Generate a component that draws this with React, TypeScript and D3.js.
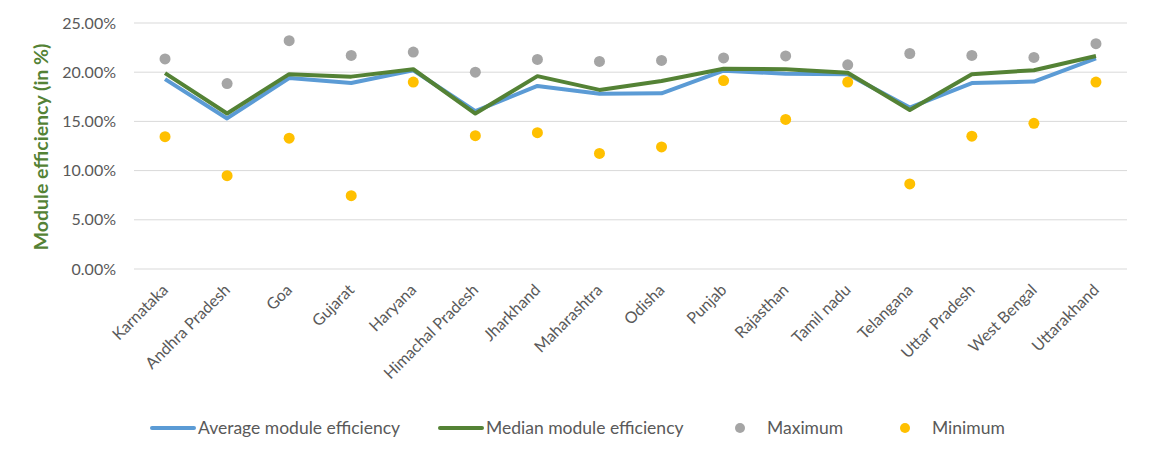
import React from 'react';
import * as d3 from 'd3';

const states = [
  'Karnataka', 'Andhra Pradesh', 'Goa', 'Gujarat', 'Haryana', 'Himachal Pradesh',
  'Jharkhand', 'Maharashtra', 'Odisha', 'Punjab', 'Rajasthan', 'Tamil nadu',
  'Telangana', 'Uttar Pradesh', 'West Bengal', 'Uttarakhand',
];
const average = [19.3, 15.3, 19.4, 18.9, 20.2, 16.05, 18.6, 17.8, 17.85, 20.15, 19.85, 19.8, 16.4, 18.9, 19.05, 21.4];
const median = [19.9, 15.8, 19.8, 19.55, 20.3, 15.8, 19.6, 18.2, 19.1, 20.35, 20.3, 19.95, 16.15, 19.8, 20.2, 21.65];
const maximum = [21.35, 18.85, 23.2, 21.7, 22.05, 20.0, 21.3, 21.1, 21.2, 21.45, 21.65, 20.75, 21.9, 21.7, 21.5, 22.9];
const minimum = [13.45, 9.48, 13.3, 7.45, 19.0, 13.55, 13.85, 11.75, 12.4, 19.15, 15.2, 19.0, 8.64, 13.5, 14.8, 19.0];
const yTicks = [0, 5, 10, 15, 20, 25];

const legendItems = [
  { label: 'Average module efficiency', kind: 'line', color: '#5B9BD5', x: 152 },
  { label: 'Median module efficiency', kind: 'line', color: '#548235', x: 440 },
  { label: 'Maximum', kind: 'dot', color: '#A5A5A5', x: 740 },
  { label: 'Minimum', kind: 'dot', color: '#FFC000', x: 905 },
];

const W = 1150;
const H = 459;
const font = 'Lato, "Open Sans", sans-serif';

export default function App() {
  const x = d3.scaleBand<string>().domain(states).range([134, 1127]);
  const y = d3.scaleLinear().domain([0, 25]).range([269, 23]);
  const cx = (s: string) => (x(s) ?? 0) + x.bandwidth() / 2;

  const line = d3.line<number>()
    .x((_, i) => cx(states[i]))
    .y((d) => y(d));

  return (
    <div style={{ margin: -8 }}>
      <svg width={W} height={H} style={{ display: 'block', background: '#fff' }}>
        {yTicks.map((t) => (
          <g key={t}>
            <line x1={134} x2={1127} y1={y(t)} y2={y(t)} stroke="#D9D9D9" strokeWidth={1} />
            <text x={116} y={y(t)} dy="0.35em" textAnchor="end" fontFamily={font} fontSize={16} fill="#595959">
              {t.toFixed(2)}%
            </text>
          </g>
        ))}
        <text
          transform={`translate(48,${y(12.4)}) rotate(-90)`}
          textAnchor="middle"
          fontFamily={font}
          fontSize={19.5}
          fontWeight="bold"
          fill="#548235"
        >
          Module efficiency (in %)
        </text>

        {states.map((s) => (
          <text
            key={s}
            transform={`translate(${cx(s) + 4},${291}) rotate(-45)`}
            textAnchor="end"
            fontFamily={font}
            fontSize={16}
            fill="#595959"
          >
            {s}
          </text>
        ))}

        <path d={line(average) || ''} fill="none" stroke="#5B9BD5" strokeWidth={4} strokeLinejoin="round" />
        <path d={line(median) || ''} fill="none" stroke="#548235" strokeWidth={4} strokeLinejoin="round" />

        {maximum.map((v, i) => (
          <circle key={'mx' + i} cx={cx(states[i])} cy={y(v)} r={5.5} fill="#A5A5A5" />
        ))}
        {minimum.map((v, i) => (
          <circle key={'mn' + i} cx={cx(states[i])} cy={y(v)} r={5.5} fill="#FFC000" />
        ))}

        {legendItems.map((it) => (
          <g key={it.label}>
            {it.kind === 'line' ? (
              <line x1={it.x} x2={it.x + 42} y1={428} y2={428} stroke={it.color} strokeWidth={4} strokeLinecap="round" />
            ) : (
              <circle cx={it.x} cy={428} r={5} fill={it.color} />
            )}
            <text
              x={it.kind === 'line' ? it.x + 46 : it.x + 27}
              y={428}
              dy="0.35em"
              fontFamily={font}
              fontSize={17.5}
              fill="#595959"
            >
              {it.label}
            </text>
          </g>
        ))}
      </svg>
    </div>
  );
}
